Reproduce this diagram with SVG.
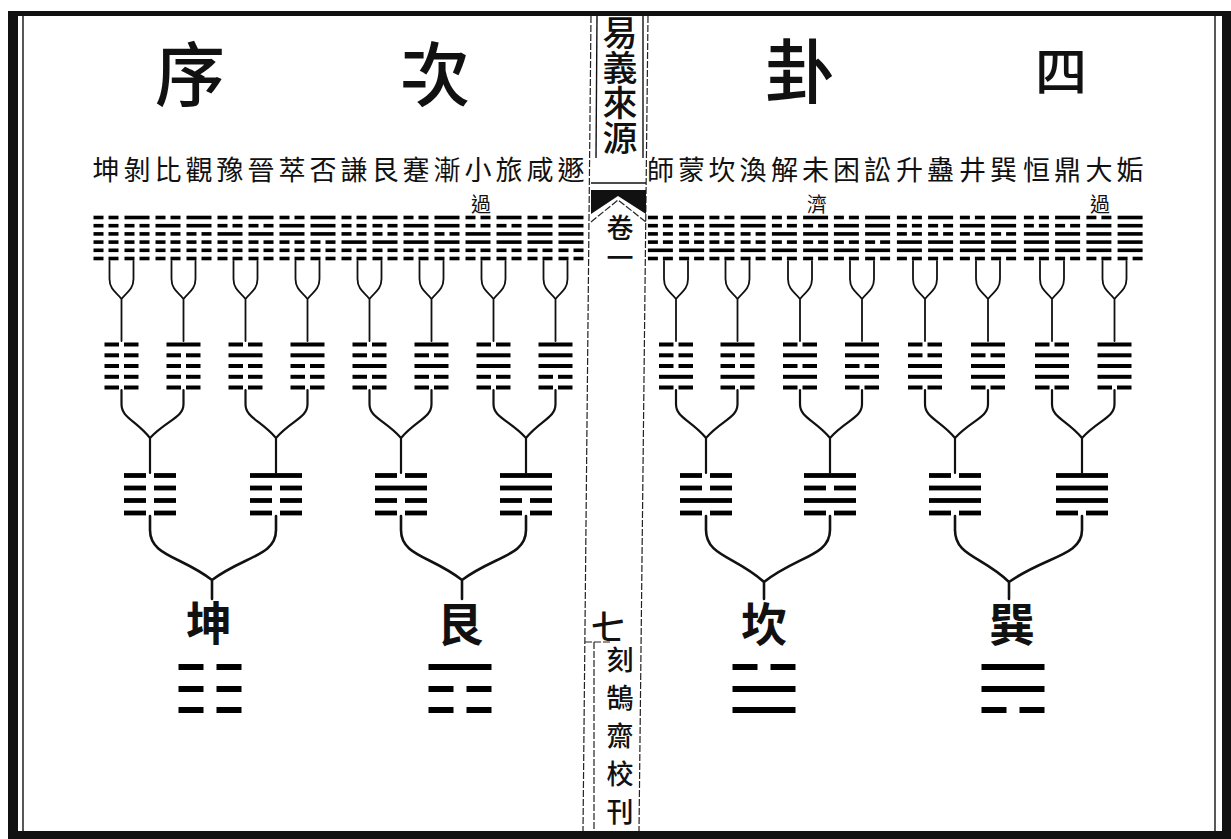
<svg xmlns="http://www.w3.org/2000/svg" width="1231" height="839" viewBox="0 0 1231 839">
<style>
text{font-family:"Noto Sans CJK TC","Noto Sans CJK SC",sans-serif;fill:#111;text-anchor:middle;dominant-baseline:central}
.lb{font-size:27px}
.sm{font-size:20px}
.ti{font-size:70px;font-weight:500}
.bt{font-size:46px;font-weight:700}
.vt{writing-mode:vertical-rl;text-anchor:start;font-weight:500}
.c{fill:none;stroke:#111;stroke-width:1.8;stroke-linecap:round}
.c2{fill:none;stroke:#111;stroke-width:2.2;stroke-linecap:round}
.c3{fill:none;stroke:#111;stroke-width:2.6;stroke-linecap:round}
.fr{fill:none;stroke:#111;stroke-width:1.4}
.frd{fill:none;stroke:#222;stroke-width:1.2;stroke-dasharray:7 2}
</style>
<defs>
<g id="hy"><rect x="-12.5" y="-1.8" width="25" height="3.6"/></g>
<g id="hn"><rect x="-12.5" y="-1.8" width="10" height="3.6"/><rect x="2.5" y="-1.8" width="10" height="3.6"/></g>
<g id="T0"><use href="#hn"/><use href="#hn" y="8.2"/><use href="#hn" y="16.4"/></g>
<g id="T1"><use href="#hy"/><use href="#hn" y="8.2"/><use href="#hn" y="16.4"/></g>
<g id="T2"><use href="#hn"/><use href="#hy" y="8.2"/><use href="#hn" y="16.4"/></g>
<g id="T3"><use href="#hy"/><use href="#hy" y="8.2"/><use href="#hn" y="16.4"/></g>
<g id="T4"><use href="#hn"/><use href="#hn" y="8.2"/><use href="#hy" y="16.4"/></g>
<g id="T5"><use href="#hy"/><use href="#hn" y="8.2"/><use href="#hy" y="16.4"/></g>
<g id="T6"><use href="#hn"/><use href="#hy" y="8.2"/><use href="#hy" y="16.4"/></g>
<g id="T7"><use href="#hy"/><use href="#hy" y="8.2"/><use href="#hy" y="16.4"/></g>
<g id="fy"><rect x="-17" y="-2" width="34" height="4"/></g>
<g id="fn"><rect x="-17" y="-2" width="14.5" height="4"/><rect x="2.5" y="-2" width="14.5" height="4"/></g>
<g id="gy"><rect x="-26" y="-2.4" width="52" height="4.8"/></g>
<g id="gn"><rect x="-26" y="-2.4" width="22" height="4.8"/><rect x="4" y="-2.4" width="22" height="4.8"/></g>
<g id="ky"><rect x="-31.5" y="-3" width="63" height="6"/></g>
<g id="kn"><rect x="-31.5" y="-3" width="25" height="6"/><rect x="6.5" y="-3" width="25" height="6"/></g>
</defs>
<rect width="1231" height="839" fill="#fff"/>

<g id="frame" fill="#111">
<rect x="8" y="11" width="1223" height="5"/>
<rect x="8" y="11" width="10" height="828"/>
<rect x="8" y="831" width="1223" height="8"/>
<rect x="1222" y="11" width="9" height="828"/>
<line class="fr" x1="23" y1="16" x2="23" y2="831"/>
<line class="fr" x1="1215" y1="16" x2="1215" y2="831"/>
</g>

<g id="center-column">
<line class="frd" x1="591" y1="16" x2="583" y2="831"/>
<line class="frd" x1="648" y1="16" x2="639" y2="831"/>
<line class="fr" x1="597" y1="16" x2="596" y2="158"/>
<line class="fr" x1="643" y1="16" x2="643" y2="158"/>
<text class="vt" x="620" y="15" style="font-size:35px">易義來源</text>
<line class="fr" x1="591" y1="183" x2="646" y2="183"/>
<polygon fill="#111" points="591,190 646,190 646,214 618,196 591,214"/>
<polyline class="frd" points="591,222 618,200 646,222"/>
<text class="vt" x="620" y="214" style="font-size:27px;letter-spacing:3px">卷一</text>
<text x="608" y="625" style="font-size:34px;font-weight:500">七</text>
<line class="frd" x1="585" y1="642" x2="612" y2="642"/>
<line class="frd" x1="594" y1="642" x2="594" y2="831"/>
<text class="vt" x="620" y="646" style="font-size:27px;letter-spacing:11px">刻鵠齋校刊</text>
</g>

<g id="title">
<text class="ti" x="190" y="70">序</text>
<text class="ti" x="435" y="70">次</text>
<text class="ti" x="800" y="67">卦</text>
<text class="ti" x="1061" y="68" style="font-size:52px">四</text>
</g>

<g id="hexagrams-left">
<g id="hex-kun"><text class="lb" x="106" y="168">坤</text><use href="#T0" x="106" y="217.5"/><use href="#T0" x="106" y="242.1"/></g>
<g id="hex-bo"><text class="lb" x="137" y="168">剝</text><use href="#T1" x="137" y="217.5"/><use href="#T0" x="137" y="242.1"/></g>
<g id="hex-bi"><text class="lb" x="168" y="168">比</text><use href="#T2" x="168" y="217.5"/><use href="#T0" x="168" y="242.1"/></g>
<g id="hex-guan"><text class="lb" x="199" y="168">觀</text><use href="#T3" x="199" y="217.5"/><use href="#T0" x="199" y="242.1"/></g>
<g id="hex-yu"><text class="lb" x="230" y="168">豫</text><use href="#T4" x="230" y="217.5"/><use href="#T0" x="230" y="242.1"/></g>
<g id="hex-jin"><text class="lb" x="261" y="168">晉</text><use href="#T5" x="261" y="217.5"/><use href="#T0" x="261" y="242.1"/></g>
<g id="hex-cui"><text class="lb" x="292" y="168">萃</text><use href="#T6" x="292" y="217.5"/><use href="#T0" x="292" y="242.1"/></g>
<g id="hex-pi"><text class="lb" x="323" y="168">否</text><use href="#T7" x="323" y="217.5"/><use href="#T0" x="323" y="242.1"/></g>
<g id="hex-qian"><text class="lb" x="354" y="168">謙</text><use href="#T0" x="354" y="217.5"/><use href="#T1" x="354" y="242.1"/></g>
<g id="hex-gen"><text class="lb" x="385" y="168">艮</text><use href="#T1" x="385" y="217.5"/><use href="#T1" x="385" y="242.1"/></g>
<g id="hex-jian"><text class="lb" x="416" y="168">蹇</text><use href="#T2" x="416" y="217.5"/><use href="#T1" x="416" y="242.1"/></g>
<g id="hex-jian2"><text class="lb" x="447" y="168">漸</text><use href="#T3" x="447" y="217.5"/><use href="#T1" x="447" y="242.1"/></g>
<g id="hex-xiaoguo"><text class="lb" x="478" y="168">小</text><text class="sm" x="481" y="203">過</text><use href="#T4" x="478" y="217.5"/><use href="#T1" x="478" y="242.1"/></g>
<g id="hex-lv"><text class="lb" x="509" y="168">旅</text><use href="#T5" x="509" y="217.5"/><use href="#T1" x="509" y="242.1"/></g>
<g id="hex-xian"><text class="lb" x="540" y="168">咸</text><use href="#T6" x="540" y="217.5"/><use href="#T1" x="540" y="242.1"/></g>
<g id="hex-dun"><text class="lb" x="571" y="168">遯</text><use href="#T7" x="571" y="217.5"/><use href="#T1" x="571" y="242.1"/></g>
</g>

<g id="hexagrams-right">
<g id="hex-shi"><text class="lb" x="660.4" y="168">師</text><use href="#T0" x="660.4" y="217.5"/><use href="#T2" x="660.4" y="242.1"/></g>
<g id="hex-meng"><text class="lb" x="691.6" y="168">蒙</text><use href="#T1" x="691.6" y="217.5"/><use href="#T2" x="691.6" y="242.1"/></g>
<g id="hex-kan"><text class="lb" x="721.9" y="168">坎</text><use href="#T2" x="721.9" y="217.5"/><use href="#T2" x="721.9" y="242.1"/></g>
<g id="hex-huan"><text class="lb" x="753.1" y="168">渙</text><use href="#T3" x="753.1" y="217.5"/><use href="#T2" x="753.1" y="242.1"/></g>
<g id="hex-xie"><text class="lb" x="784.4" y="168">解</text><use href="#T4" x="784.4" y="217.5"/><use href="#T2" x="784.4" y="242.1"/></g>
<g id="hex-weiji"><text class="lb" x="815.6" y="168">未</text><text class="sm" x="817" y="203">濟</text><use href="#T5" x="815.6" y="217.5"/><use href="#T2" x="815.6" y="242.1"/></g>
<g id="hex-kun2"><text class="lb" x="846.4" y="168">困</text><use href="#T6" x="846.4" y="217.5"/><use href="#T2" x="846.4" y="242.1"/></g>
<g id="hex-song"><text class="lb" x="877.6" y="168">訟</text><use href="#T7" x="877.6" y="217.5"/><use href="#T2" x="877.6" y="242.1"/></g>
<g id="hex-sheng"><text class="lb" x="909.4" y="168">升</text><use href="#T0" x="909.4" y="217.5"/><use href="#T3" x="909.4" y="242.1"/></g>
<g id="hex-gu"><text class="lb" x="940.6" y="168">蠱</text><use href="#T1" x="940.6" y="217.5"/><use href="#T3" x="940.6" y="242.1"/></g>
<g id="hex-jing"><text class="lb" x="972.4" y="168">井</text><use href="#T2" x="972.4" y="217.5"/><use href="#T3" x="972.4" y="242.1"/></g>
<g id="hex-xun"><text class="lb" x="1003.6" y="168">巽</text><use href="#T3" x="1003.6" y="217.5"/><use href="#T3" x="1003.6" y="242.1"/></g>
<g id="hex-heng"><text class="lb" x="1036.4" y="168">恒</text><use href="#T4" x="1036.4" y="217.5"/><use href="#T3" x="1036.4" y="242.1"/></g>
<g id="hex-ding"><text class="lb" x="1067.6" y="168">鼎</text><use href="#T5" x="1067.6" y="217.5"/><use href="#T3" x="1067.6" y="242.1"/></g>
<g id="hex-daguo"><text class="lb" x="1098.9" y="168">大</text><text class="sm" x="1100" y="203">過</text><use href="#T6" x="1098.9" y="217.5"/><use href="#T3" x="1098.9" y="242.1"/></g>
<g id="hex-gou"><text class="lb" x="1130.1" y="168">姤</text><use href="#T7" x="1130.1" y="217.5"/><use href="#T3" x="1130.1" y="242.1"/></g>
</g>

<g id="five-line-figures">
<g id="f5-L0"><use href="#fn" x="121.5" y="344.5"/><use href="#fn" x="121.5" y="355.3"/><use href="#fn" x="121.5" y="366"/><use href="#fn" x="121.5" y="376.8"/><use href="#fn" x="121.5" y="387.5"/></g>
<g id="f5-L1"><use href="#fy" x="183.5" y="344.5"/><use href="#fn" x="183.5" y="355.3"/><use href="#fn" x="183.5" y="366"/><use href="#fn" x="183.5" y="376.8"/><use href="#fn" x="183.5" y="387.5"/></g>
<g id="f5-L2"><use href="#fn" x="245.5" y="344.5"/><use href="#fy" x="245.5" y="355.3"/><use href="#fn" x="245.5" y="366"/><use href="#fn" x="245.5" y="376.8"/><use href="#fn" x="245.5" y="387.5"/></g>
<g id="f5-L3"><use href="#fy" x="307.5" y="344.5"/><use href="#fy" x="307.5" y="355.3"/><use href="#fn" x="307.5" y="366"/><use href="#fn" x="307.5" y="376.8"/><use href="#fn" x="307.5" y="387.5"/></g>
<g id="f5-L4"><use href="#fn" x="369.5" y="344.5"/><use href="#fn" x="369.5" y="355.3"/><use href="#fy" x="369.5" y="366"/><use href="#fn" x="369.5" y="376.8"/><use href="#fn" x="369.5" y="387.5"/></g>
<g id="f5-L5"><use href="#fy" x="431.5" y="344.5"/><use href="#fn" x="431.5" y="355.3"/><use href="#fy" x="431.5" y="366"/><use href="#fn" x="431.5" y="376.8"/><use href="#fn" x="431.5" y="387.5"/></g>
<g id="f5-L6"><use href="#fn" x="493.5" y="344.5"/><use href="#fy" x="493.5" y="355.3"/><use href="#fy" x="493.5" y="366"/><use href="#fn" x="493.5" y="376.8"/><use href="#fn" x="493.5" y="387.5"/></g>
<g id="f5-L7"><use href="#fy" x="555.5" y="344.5"/><use href="#fy" x="555.5" y="355.3"/><use href="#fy" x="555.5" y="366"/><use href="#fn" x="555.5" y="376.8"/><use href="#fn" x="555.5" y="387.5"/></g>
<g id="f5-R0"><use href="#fn" x="676" y="344.5"/><use href="#fn" x="676" y="355.3"/><use href="#fn" x="676" y="366"/><use href="#fy" x="676" y="376.8"/><use href="#fn" x="676" y="387.5"/></g>
<g id="f5-R1"><use href="#fy" x="737.5" y="344.5"/><use href="#fn" x="737.5" y="355.3"/><use href="#fn" x="737.5" y="366"/><use href="#fy" x="737.5" y="376.8"/><use href="#fn" x="737.5" y="387.5"/></g>
<g id="f5-R2"><use href="#fn" x="800" y="344.5"/><use href="#fy" x="800" y="355.3"/><use href="#fn" x="800" y="366"/><use href="#fy" x="800" y="376.8"/><use href="#fn" x="800" y="387.5"/></g>
<g id="f5-R3"><use href="#fy" x="862" y="344.5"/><use href="#fy" x="862" y="355.3"/><use href="#fn" x="862" y="366"/><use href="#fy" x="862" y="376.8"/><use href="#fn" x="862" y="387.5"/></g>
<g id="f5-R4"><use href="#fn" x="925" y="344.5"/><use href="#fn" x="925" y="355.3"/><use href="#fy" x="925" y="366"/><use href="#fy" x="925" y="376.8"/><use href="#fn" x="925" y="387.5"/></g>
<g id="f5-R5"><use href="#fy" x="988" y="344.5"/><use href="#fn" x="988" y="355.3"/><use href="#fy" x="988" y="366"/><use href="#fy" x="988" y="376.8"/><use href="#fn" x="988" y="387.5"/></g>
<g id="f5-R6"><use href="#fn" x="1052" y="344.5"/><use href="#fy" x="1052" y="355.3"/><use href="#fy" x="1052" y="366"/><use href="#fy" x="1052" y="376.8"/><use href="#fn" x="1052" y="387.5"/></g>
<g id="f5-R7"><use href="#fy" x="1114.5" y="344.5"/><use href="#fy" x="1114.5" y="355.3"/><use href="#fy" x="1114.5" y="366"/><use href="#fy" x="1114.5" y="376.8"/><use href="#fn" x="1114.5" y="387.5"/></g>
</g>

<g id="four-line-figures">
<g id="f4-L0"><use href="#gn" x="150" y="475.5"/><use href="#gn" x="150" y="488"/><use href="#gn" x="150" y="500.5"/><use href="#gn" x="150" y="513"/></g>
<g id="f4-L1"><use href="#gy" x="276" y="475.5"/><use href="#gn" x="276" y="488"/><use href="#gn" x="276" y="500.5"/><use href="#gn" x="276" y="513"/></g>
<g id="f4-L2"><use href="#gn" x="401" y="475.5"/><use href="#gy" x="401" y="488"/><use href="#gn" x="401" y="500.5"/><use href="#gn" x="401" y="513"/></g>
<g id="f4-L3"><use href="#gy" x="526" y="475.5"/><use href="#gy" x="526" y="488"/><use href="#gn" x="526" y="500.5"/><use href="#gn" x="526" y="513"/></g>
<g id="f4-R0"><use href="#gn" x="706" y="475.5"/><use href="#gn" x="706" y="488"/><use href="#gy" x="706" y="500.5"/><use href="#gn" x="706" y="513"/></g>
<g id="f4-R1"><use href="#gy" x="830" y="475.5"/><use href="#gn" x="830" y="488"/><use href="#gy" x="830" y="500.5"/><use href="#gn" x="830" y="513"/></g>
<g id="f4-R2"><use href="#gn" x="955" y="475.5"/><use href="#gy" x="955" y="488"/><use href="#gy" x="955" y="500.5"/><use href="#gn" x="955" y="513"/></g>
<g id="f4-R3"><use href="#gy" x="1082" y="475.5"/><use href="#gy" x="1082" y="488"/><use href="#gy" x="1082" y="500.5"/><use href="#gn" x="1082" y="513"/></g>
</g>

<g id="trigram-kun"><text class="bt" x="209" y="620">坤</text><use href="#kn" x="210" y="667"/><use href="#kn" x="210" y="689"/><use href="#kn" x="210" y="710"/></g>
<g id="trigram-gen"><text class="bt" x="460" y="621">艮</text><use href="#ky" x="460" y="667"/><use href="#kn" x="460" y="689"/><use href="#kn" x="460" y="710"/></g>
<g id="trigram-kan"><text class="bt" x="764" y="621">坎</text><use href="#kn" x="764" y="667"/><use href="#ky" x="764" y="689"/><use href="#ky" x="764" y="710"/></g>
<g id="trigram-xun"><text class="bt" x="1012" y="621">巽</text><use href="#ky" x="1013" y="667"/><use href="#ky" x="1013" y="689"/><use href="#kn" x="1013" y="710"/></g>

<g id="connectors">
<g class="c">
<path d="M109.5,261V279C109.5,290 117.5,293 121.5,299C125.5,293 133.5,290 133.5,279V261M121.5,299V341"/>
<path d="M171.5,261V279C171.5,290 179.5,293 183.5,299C187.5,293 195.5,290 195.5,279V261M183.5,299V341"/>
<path d="M233.5,261V279C233.5,290 241.5,293 245.5,299C249.5,293 257.5,290 257.5,279V261M245.5,299V341"/>
<path d="M295.5,261V279C295.5,290 303.5,293 307.5,299C311.5,293 319.5,290 319.5,279V261M307.5,299V341"/>
<path d="M357.5,261V279C357.5,290 365.5,293 369.5,299C373.5,293 381.5,290 381.5,279V261M369.5,299V341"/>
<path d="M419.5,261V279C419.5,290 427.5,293 431.5,299C435.5,293 443.5,290 443.5,279V261M431.5,299V341"/>
<path d="M481.5,261V279C481.5,290 489.5,293 493.5,299C497.5,293 505.5,290 505.5,279V261M493.5,299V341"/>
<path d="M543.5,261V279C543.5,290 551.5,293 555.5,299C559.5,293 567.5,290 567.5,279V261M555.5,299V341"/>
<path d="M664,261V279C664,290 672,293 676,299C680,293 688,290 688,279V261M676,299V341"/>
<path d="M725.5,261V279C725.5,290 733.5,293 737.5,299C741.5,293 749.5,290 749.5,279V261M737.5,299V341"/>
<path d="M788,261V279C788,290 796,293 800,299C804,293 812,290 812,279V261M800,299V341"/>
<path d="M850,261V279C850,290 858,293 862,299C866,293 874,290 874,279V261M862,299V341"/>
<path d="M913,261V279C913,290 921,293 925,299C929,293 937,290 937,279V261M925,299V341"/>
<path d="M976,261V279C976,290 984,293 988,299C992,293 1000,290 1000,279V261M988,299V341"/>
<path d="M1040,261V279C1040,290 1048,293 1052,299C1056,293 1064,290 1064,279V261M1052,299V341"/>
<path d="M1102.5,261V279C1102.5,290 1110.5,293 1114.5,299C1118.5,293 1126.5,290 1126.5,279V261M1114.5,299V341"/>
</g>
<g class="c2">
<path d="M121.5,390V404C121.5,418 135.75,420 150,438M183.5,390V404C183.5,418 166.75,420 150,438M150,438V473"/>
<path d="M245.5,390V404C245.5,418 260.75,420 276,438M307.5,390V404C307.5,418 291.75,420 276,438M276,438V473"/>
<path d="M369.5,390V404C369.5,418 385.25,420 401,438M431.5,390V404C431.5,418 416.25,420 401,438M401,438V473"/>
<path d="M493.5,390V404C493.5,418 509.75,420 526,438M555.5,390V404C555.5,418 540.75,420 526,438M526,438V473"/>
<path d="M676,390V404C676,418 691,420 706,438M737.5,390V404C737.5,418 721.75,420 706,438M706,438V473"/>
<path d="M800,390V404C800,418 815,420 830,438M862,390V404C862,418 846,420 830,438M830,438V473"/>
<path d="M925,390V404C925,418 940,420 955,438M988,390V404C988,418 971.5,420 955,438M955,438V473"/>
<path d="M1052,390V404C1052,418 1067,420 1082,438M1114.5,390V404C1114.5,418 1098.25,420 1082,438M1082,438V473"/>
</g>
<g class="c3">
<path d="M150,516V530C150,556 181,556 212,580M276,516V530C276,556 244,556 212,580M212,580V599"/>
<path d="M401,516V530C401,556 431.5,556 462,580M526,516V530C526,556 494,556 462,580M462,580V599"/>
<path d="M706,516V530C706,556 735,556 764,582M830,516V530C830,556 797,556 764,582M764,582V599"/>
<path d="M955,516V530C955,556 982,556 1009,582M1082,516V530C1082,556 1045.5,556 1009,582M1009,582V599"/>
</g>
</g>
</svg>
